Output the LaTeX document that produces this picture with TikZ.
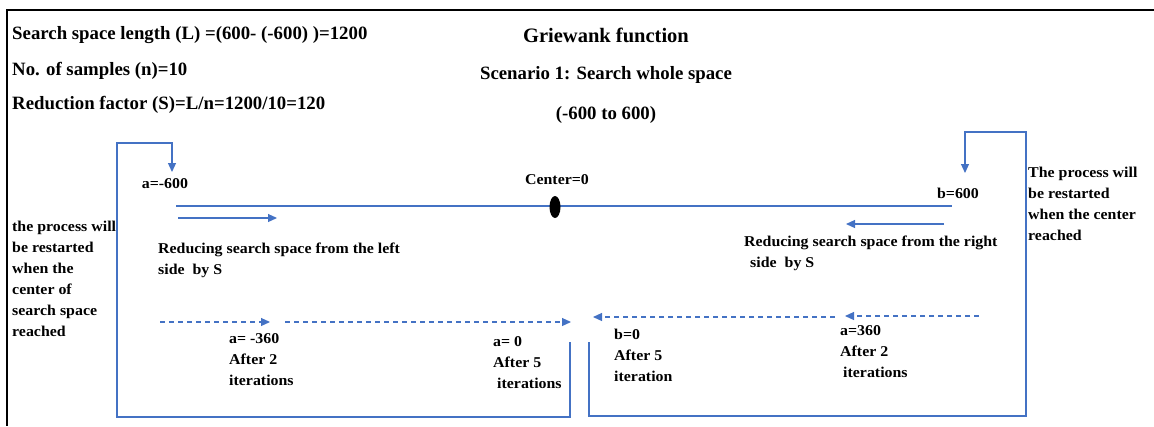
\documentclass[tikz,border=0pt]{standalone}
\usepackage{fontspec}
\setmainfont{Liberation Serif}
\newfontfamily\labfont{Liberation Serif}[FakeStretch=1.06]
\usetikzlibrary{arrows.meta,shapes.geometric}
\definecolor{lb}{RGB}{68,114,196}
\begin{document}
\begin{tikzpicture}[x=1pt,y=-1pt,
  big/.style={font=\fontsize{18.8}{22}\selectfont\bfseries, inner sep=0, anchor=west},
  lab/.style={font=\labfont\fontsize{15}{21}\selectfont\bfseries, inner sep=0, align=left, anchor=north west},
  ln/.style={draw=lb, line width=1.2pt},
  arr/.style={ln, -{Triangle[length=9pt,width=8pt]}},
  dsh/.style={arr, dash pattern=on 5pt off 4pt}]
\useasboundingbox (0,0) rectangle (1154,426);
% frame
\draw[line width=1.5pt] (1154,10) -- (7,10) -- (7,426);
% header texts
\node[big] (t1) at (12,35) {Search space length (L) =(600- (-600) )=1200};
\node[big] (t2) at (12,71) {No. of samples (n)=10};
\node[big] (t3) at (12,105) {Reduction factor (S)=L/n=1200/10=120};
\node[big, anchor=center, font=\fontsize{20.5}{24}\selectfont\bfseries] (g1) at (606,35) {Griewank function};
\node[big, anchor=center] (g2) at (606,75) {Scenario 1: Search whole space};
\node[big, anchor=center] (g3) at (606,115) {(-600 to 600)};
% main line
\coordinate (mL) at (176,206);
\coordinate (mR) at (952,206);
\draw[ln] (mL) -- (mR);
\node[ellipse, fill=black, minimum width=11pt, minimum height=22pt, inner sep=0] (ctr) at (555,207) {};
\node[lab, anchor=center] (cl) at (557,180) {Center=0};
\node[lab, anchor=center] (al) at (165,184) {a=-600};
\node[lab, anchor=center] (bl) at (958,193) {b=600};
% left loop
\coordinate (lA) at (570,342);
\coordinate (lB) at (570,417);
\coordinate (lC) at (117,417);
\coordinate (lD) at (117,143);
\coordinate (lE) at (172,143);
\coordinate (lF) at (172,172);
\draw[arr] (lA) -- (lB) -- (lC) -- (lD) -- (lE) -- (lF);
% right loop
\coordinate (rA) at (589,342);
\coordinate (rB) at (589,416);
\coordinate (rC) at (1026,416);
\coordinate (rD) at (1026,132);
\coordinate (rE) at (965,132);
\coordinate (rF) at (965,173);
\draw[arr] (rA) -- (rB) -- (rC) -- (rD) -- (rE) -- (rF);
% solid arrows
\coordinate (s1a) at (178,218);
\coordinate (s1b) at (277,218);
\draw[arr] (s1a) -- (s1b);
\coordinate (s2a) at (944,224);
\coordinate (s2b) at (846,224);
\draw[arr] (s2a) -- (s2b);
\node[lab] (redL) at (158,243) {Reducing search space from the left\\side\ \ by S};
\node[lab] (redR) at (744,236) {Reducing search space from the right\\\hspace*{6pt}side\ \ by S};
% side labels
\node[lab] (sideL) at (12,221) {the process will\\be restarted\\when the\\center of\\search space\\reached};
\node[lab] (sideR) at (1028,167) {The process will\\be restarted\\when the center\\reached};
% dashed arrows
\coordinate (d1a) at (160,322);
\coordinate (d1b) at (270,322);
\draw[dsh] (d1a) -- (d1b);
\coordinate (d2a) at (285,322);
\coordinate (d2b) at (571,322);
\draw[dsh] (d2a) -- (d2b);
\coordinate (d3a) at (979,316);
\coordinate (d3b) at (845,316);
\draw[dsh] (d3a) -- (d3b);
\coordinate (d4a) at (835,317);
\coordinate (d4b) at (593,317);
\draw[dsh] (d4a) -- (d4b);
% iteration labels
\node[lab] (it1) at (229,333) {a= -360\\After 2\\iterations};
\node[lab] (it2) at (493,336) {a= 0\\After 5\\\hspace*{4pt}iterations};
\node[lab] (it3) at (614,329) {b=0\\After 5\\iteration};
\node[lab] (it4) at (840,325) {a=360\\After 2\\\hspace*{3pt}iterations};
\end{tikzpicture}
\end{document}
